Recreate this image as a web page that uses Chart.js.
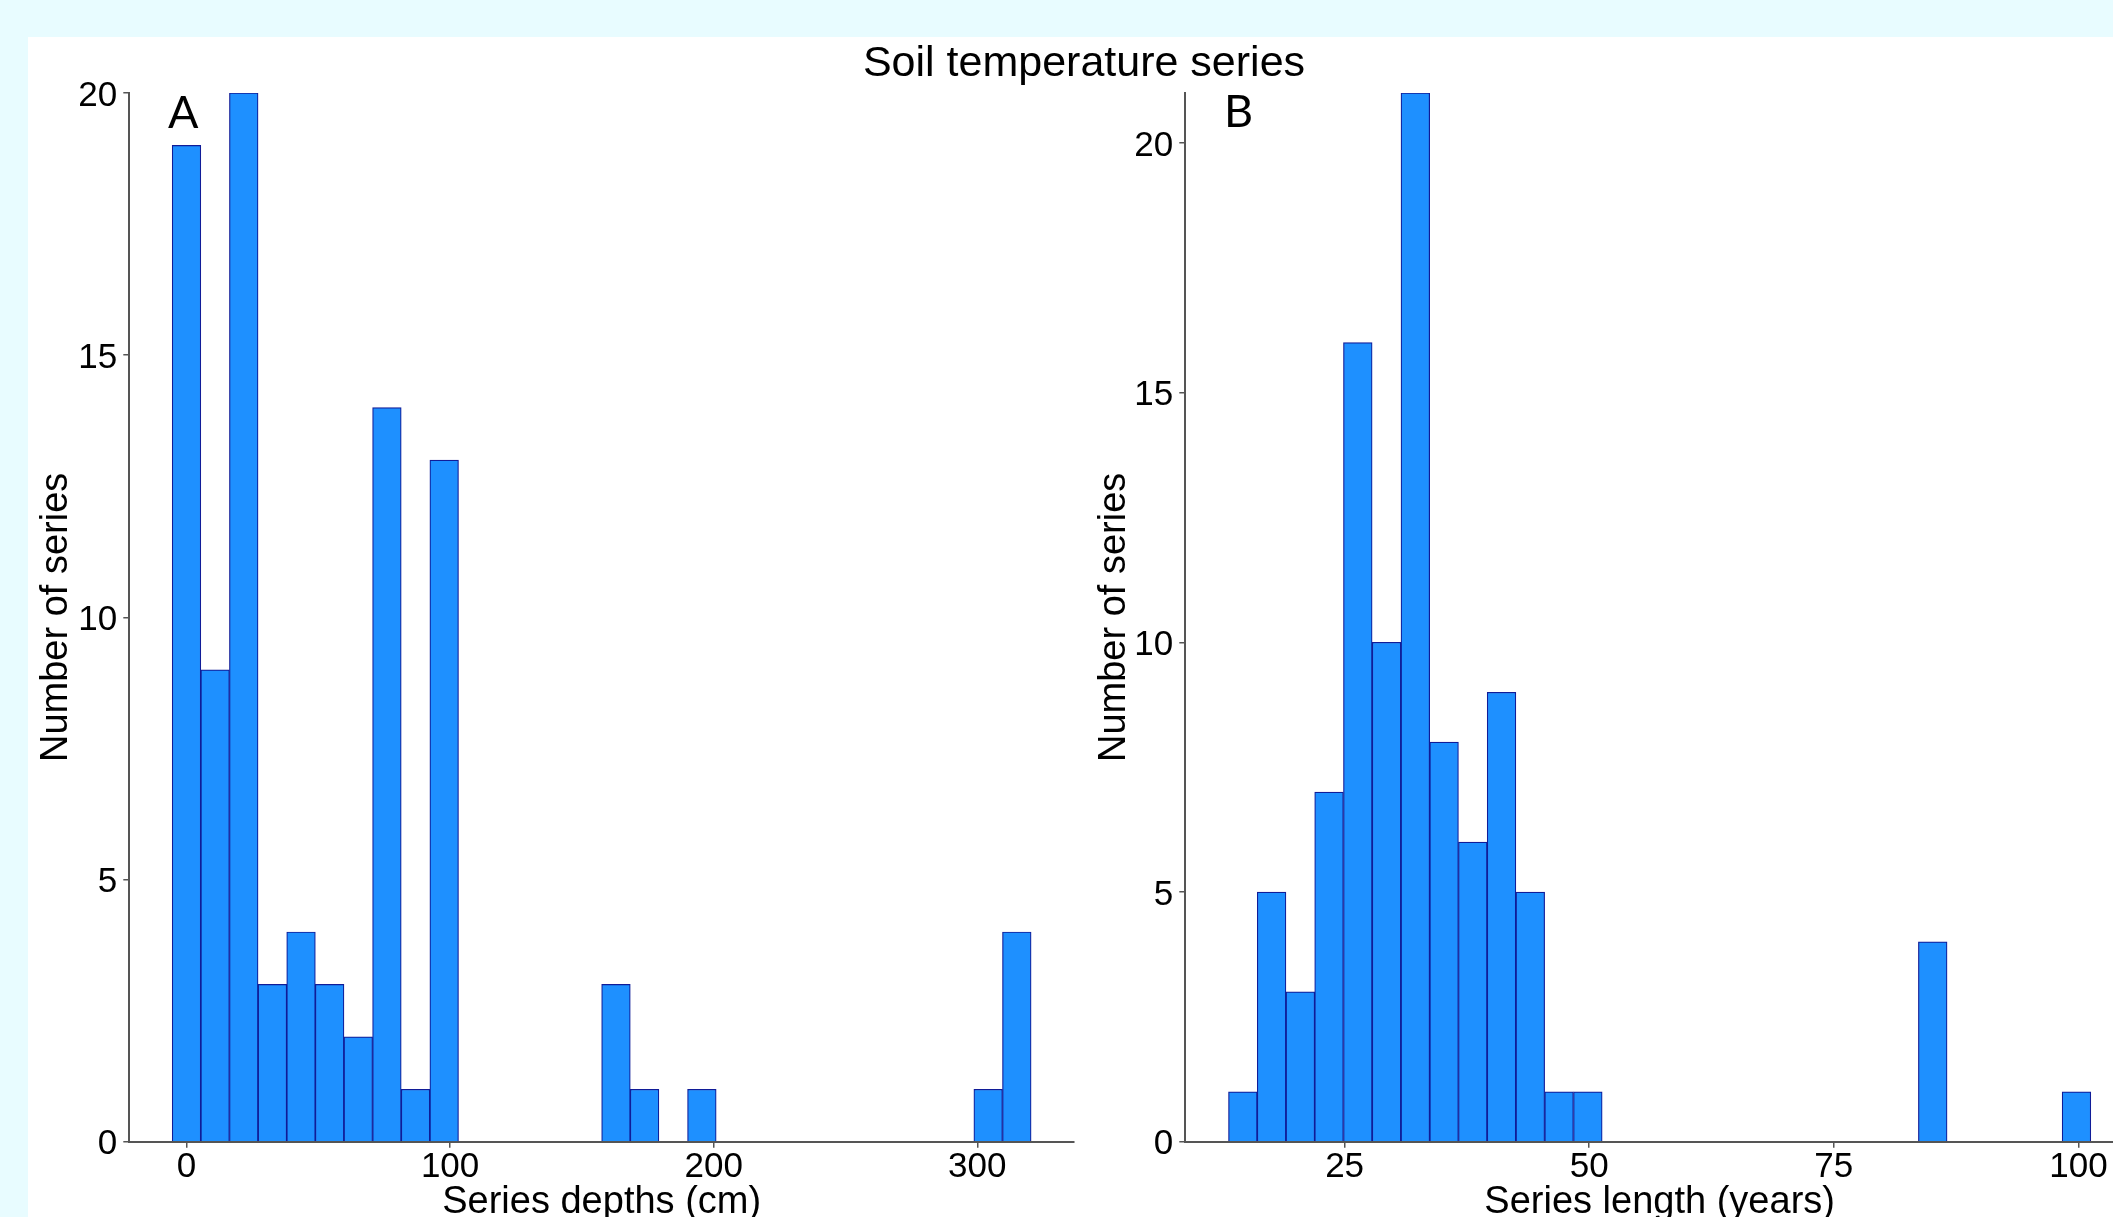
<!DOCTYPE html>
<html>
<head>
<meta charset="utf-8">
<script src="https://cdn.jsdelivr.net/npm/chart.js@4/dist/chart.umd.min.js"></script>
<style>
html,body{margin:0;padding:0;width:2113px;height:1217px;overflow:hidden;background:#E8FCFF;font-family:"Liberation Sans",Arial,sans-serif;}
#panel{position:absolute;left:28px;top:37px;width:2200px;height:1300px;background:#ffffff;}
#title{position:absolute;left:0;width:2168px;top:40px;text-align:center;font-size:43px;line-height:43px;color:#000;white-space:nowrap;}
.lab{position:absolute;font-family:Lato,"Open Sans",sans-serif;font-size:45px;line-height:45px;color:#000;}
#cA{position:absolute;left:28px;top:37px;}
#cB{position:absolute;left:1088px;top:37px;}
</style>
</head>
<body>
<div id="panel"></div>
<canvas id="cA" width="1060" height="1220"></canvas>
<canvas id="cB" width="1100" height="1220"></canvas>
<div id="title"></div>
<div class="lab" id="labA" style="left:168px;top:89px;"></div>
<div class="lab" id="labB" style="left:1224px;top:88px;"></div>
<script>
// ---- text ----
const mainTitle = 'Soil temperature series';
const panelLabels = ['A', 'B'];
const yTitle = 'Number of series';
const xTitleA = 'Series depths (cm)';
const xTitleB = 'Series length (years)';

// ---- panel A: series depths (cm), histogram bins ----
const binCentersA = [0, 10.86, 21.72, 32.59, 43.45, 54.31, 65.17, 76.03, 86.90, 97.76,
  108.62, 119.48, 130.34, 141.21, 152.07, 162.93, 173.79, 184.66, 195.52, 206.38,
  217.24, 228.10, 238.97, 249.83, 260.69, 271.55, 282.41, 293.28, 304.14, 315.00];
const countsA = [19, 9, 20, 3, 4, 3, 2, 14, 1, 13,
  0, 0, 0, 0, 0, 3, 1, 0, 1, 0,
  0, 0, 0, 0, 0, 0, 0, 0, 1, 4];
const xTicksA = [0, 100, 200, 300];
const xRangeA = [-21.7, 336.7];
const yMaxA = 20;

// ---- panel B: series length (years), histogram bins ----
const binCentersB = [14.60, 17.54, 20.48, 23.41, 26.35, 29.29, 32.23, 35.17, 38.10, 41.04,
  43.98, 46.92, 49.86, 52.79, 55.73, 58.67, 61.61, 64.55, 67.48, 70.42,
  73.36, 76.30, 79.24, 82.17, 85.11, 88.05, 90.99, 93.93, 96.86, 99.80];
const countsB = [1, 5, 3, 7, 16, 10, 21, 8, 6, 9,
  5, 1, 1, 0, 0, 0, 0, 0, 0, 0,
  0, 0, 0, 0, 4, 0, 0, 0, 0, 1];
const xTicksB = [25, 50, 75, 100];
const xRangeB = [8.72, 105.68];
const yMaxB = 21;

const yTicks = [0, 5, 10, 15, 20];

document.getElementById('title').textContent = mainTitle;
document.getElementById('labA').textContent = panelLabels[0];
document.getElementById('labB').textContent = panelLabels[1];

const FONT = '"Liberation Sans", Arial, sans-serif';
const AXIS = '#555555';

function makeHist(id, centers, counts, xRange, xTicks, yMax, xTitle, g) {
  const data = centers.map((c, i) => ({x: c, y: counts[i]}));
  return new Chart(document.getElementById(id), {
    type: 'bar',
    data: {datasets: [{
      data: data,
      backgroundColor: '#1E90FF',
      borderColor: '#101C98',
      borderWidth: 1.2,
      barPercentage: 1,
      categoryPercentage: 1
    }]},
    options: {
      responsive: false,
      animation: false,
      devicePixelRatio: 1,
      layout: {padding: {left: 0, right: g.padRight, top: g.padTop, bottom: 0}},
      plugins: {legend: {display: false}, tooltip: {enabled: false}, title: {display: false}},
      scales: {
        x: {
          type: 'linear',
          min: xRange[0], max: xRange[1],
          offset: false,
          afterBuildTicks: s => { s.ticks = xTicks.map(v => ({value: v})); },
          afterFit: s => { s.height = g.xHeight; },
          grid: {display: true, drawOnChartArea: false, drawTicks: true, tickLength: 6, color: AXIS, lineWidth: 1.5, offset: false},
          border: {display: true, color: AXIS, width: 2},
          ticks: {color: '#000', font: {family: FONT, size: 35, lineHeight: 1}, padding: 2, maxRotation: 0, autoSkip: false,
                  callback: v => String(v)},
          title: {display: true, text: xTitle, color: '#000', font: {family: FONT, size: 38, lineHeight: 1.2},
                  padding: {top: 0, bottom: g.xTitlePad}}
        },
        y: {
          type: 'linear',
          min: 0, max: yMax,
          afterBuildTicks: s => { s.ticks = yTicks.map(v => ({value: v})); },
          afterFit: s => { s.width = g.yWidth; },
          grid: {display: true, drawOnChartArea: false, drawTicks: true, tickLength: 6, color: AXIS, lineWidth: 1.5},
          border: {display: true, color: AXIS, width: 2},
          ticks: {color: '#000', font: {family: FONT, size: 35, lineHeight: 1}, padding: 6, labelOffset: 3,
                  callback: v => String(v)},
          title: {display: true, text: yTitle, color: '#000', font: {family: FONT, size: 38, lineHeight: 1.2},
                  padding: {top: g.yTitlePad, bottom: 0}}
        }
      }
    }
  });
}

makeHist('cA', binCentersA, countsA, xRangeA, xTicksA, yMaxA, xTitleA,
  {padRight: 14, padTop: 56, xHeight: 115.3, yWidth: 101.3, xTitlePad: 32, yTitlePad: 6});
makeHist('cB', binCentersB, countsB, xRangeB, xTicksB, yMaxB, xTitleB,
  {padRight: 54, padTop: 56, xHeight: 115.3, yWidth: 97.3, xTitlePad: 32, yTitlePad: 4});
</script>
</body>
</html>
